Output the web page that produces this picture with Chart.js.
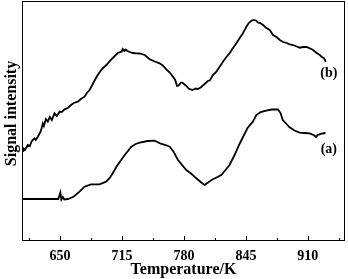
<!DOCTYPE html>
<html>
<head>
<meta charset="utf-8">
<script src="https://cdn.jsdelivr.net/npm/chart.js@4/dist/chart.umd.min.js"></script>
<style>
html,body{margin:0;padding:0;background:#fff;}
#wrap{width:348px;height:279px;position:relative;}
</style>
</head>
<body>
<div id="wrap"><canvas id="c" width="348" height="279"></canvas></div>
<script>
// Temperature (K) and signal (arbitrary units)
const tempA = [610,648.1,650.2,651.3,652.8,654.4,658.1,662.3,665.1,670.3,675.6,682.5,691.3,698.2,702.1,705.2,709.1,712.6,717.8,724.8,729.3,733.5,741.9,749.2,756.3,760.8,765,769.2,773.7,782.5,788,793,797.5,801.7,805.9,810.3,815.3,819.1,823.6,827.8,833.1,838.3,842.5,846.7,852.3,855.9,860.4,866.3,871.9,878.5,881.3,883.7,887.6,890.8,896,901.3,906.5,911.8,916,918.8,920.2,922.3,925.4,928.5];
const signalA = [42,42,48.5,41.5,44,41.5,42,43.5,45,49.3,54.3,56.7,56.7,59.3,63,67.7,74.3,79,86,94.3,97,98.3,100,100.3,97,96,94.3,89,81,71,67,62.7,59,56,59,61.7,64,66,71,76,86,97,105,113,119.3,126,129,130.3,131.5,131.7,128,121,117,113.7,110.5,108.3,108,107.7,106,104,106,106.7,107.5,108];
const tempB = [610,611,613,616.1,618.2,620.3,623.1,624.5,626.6,628.7,629.8,631.9,633,635.1,637.1,639.2,641.3,644.1,646.5,649.4,651.8,654.6,658.1,661.5,664.4,668.6,671.7,675.6,678.1,680.9,684.3,688.2,691.6,695.1,698.6,702.1,707.3,710.5,714.4,715.8,717.3,718.9,720.5,723.1,726.3,730.1,733.5,738.8,744,749.3,754.5,757.7,761.5,765,768.5,770.8,772.7,774.5,776.6,778.3,780.7,782.5,784.9,788.8,792.3,794.7,797.5,801.7,804.9,807,810.4,814,817.4,820.9,824.5,827.9,831.1,835,838.5,841.9,845.5,848,850.8,853.2,856,857.4,860,863,865.8,870,873.5,877.1,880.6,884,887.9,891,894.5,898.4,901.5,905,908.8,912,915.5,919.3,922.6,924.7,926.8,928.9];
const signalB = [90,93,91,96,95,100,102.7,101,104.3,108,110,117.7,115,122,119.3,124,121,127.7,125,129.3,129,131.7,133,136,138,139.3,142,144.3,148,151,157,164,169,173,176,180,185,188,189.3,192,190,191.5,190,189,188,187.7,187.5,186,181.7,179.5,177.7,175.5,171.7,168.5,164.3,161,155,155.5,158.3,158.3,156.5,155,152.5,151,152.5,152,153.5,157,160,160.5,166,169.3,174.3,179.3,184,187.7,192.5,197.7,203,207.7,214.3,218,220.3,221,220.3,218.5,218,216,213.5,211,206,204,201,199,198,196.5,196,194.5,193.3,194,194,192.7,191,188,186,184,183,179.3];
const majorTicks = [650,715,780,845,910];
const minorTicks = [617.5,682.5,747.5,812.5,877.5,942.5];
const seriesLabels = ['(a)','(b)'];
const xTitle = 'Temperature/K';
const yTitle = 'Signal intensity';

const toPts = (xs, ys) => xs.map((x, i) => ({x: x, y: ys[i]}));
const serif = "'Liberation Serif', 'Times New Roman', serif";

const decor = {
  id: 'decor',
  afterDraw(chart) {
    const ctx = chart.ctx;
    const a = chart.chartArea;
    const xs = chart.scales.x;
    const ys = chart.scales.y;
    ctx.save();
    ctx.strokeStyle = '#000';
    ctx.lineWidth = 1;
    ctx.strokeRect(a.left + 0.5, a.top + 0.5, a.right - a.left - 1, a.bottom - a.top - 1);
    ctx.beginPath();
    majorTicks.forEach(v => {
      const px = Math.round(xs.getPixelForValue(v)) + 0.5;
      ctx.moveTo(px, a.bottom);
      ctx.lineTo(px, a.bottom - 5);
    });
    minorTicks.forEach(v => {
      const px = Math.round(xs.getPixelForValue(v)) + 0.5;
      ctx.moveTo(px, a.bottom);
      ctx.lineTo(px, a.bottom - 3);
    });
    ctx.stroke();
    ctx.fillStyle = '#000';
    ctx.font = 'bold 14px ' + serif;
    ctx.textAlign = 'center';
    ctx.textBaseline = 'middle';
    // series labels placed by data coordinates
    ctx.fillText(seriesLabels[0], xs.getPixelForValue(932), ys.getPixelForValue(92));
    ctx.fillText(seriesLabels[1], xs.getPixelForValue(932), ys.getPixelForValue(168));
    // y title
    ctx.font = 'bold 16px ' + serif;
    ctx.translate(12, 113.5);
    ctx.rotate(-Math.PI / 2);
    ctx.fillText(yTitle, 0, 0);
    ctx.restore();
  }
};

new Chart(document.getElementById('c'), {
  type: 'line',
  data: {
    datasets: [
      {label: seriesLabels[0], data: toPts(tempA, signalA), borderColor: '#000', borderWidth: 1.8, pointRadius: 0, tension: 0, fill: false},
      {label: seriesLabels[1], data: toPts(tempB, signalB), borderColor: '#000', borderWidth: 1.8, pointRadius: 0, tension: 0, fill: false}
    ]
  },
  options: {
    responsive: false,
    animation: false,
    events: [],
    layout: {padding: {top: 1, right: 3, left: 0, bottom: 0}},
    plugins: {legend: {display: false}, tooltip: {enabled: false}},
    scales: {
      x: {
        type: 'linear',
        min: 610,
        max: 949,
        afterBuildTicks: s => { s.ticks = majorTicks.map(v => ({value: v})); },
        afterFit: s => { s.height = 38; },
        grid: {display: false, drawTicks: false},
        border: {display: false},
        ticks: {color: '#000', font: {family: serif, size: 14, weight: 'bold'}, padding: 7, maxRotation: 0, autoSkip: false},
        title: {display: true, text: xTitle, color: '#000', font: {family: serif, size: 16, weight: 'bold'}, padding: {top: 0, bottom: 0}}
      },
      y: {
        type: 'linear',
        min: 0,
        max: 240,
        afterFit: s => { s.width = 22; },
        grid: {display: false, drawTicks: false},
        border: {display: false},
        ticks: {display: false}
      }
    }
  },
  plugins: [decor]
});
</script>
</body>
</html>
